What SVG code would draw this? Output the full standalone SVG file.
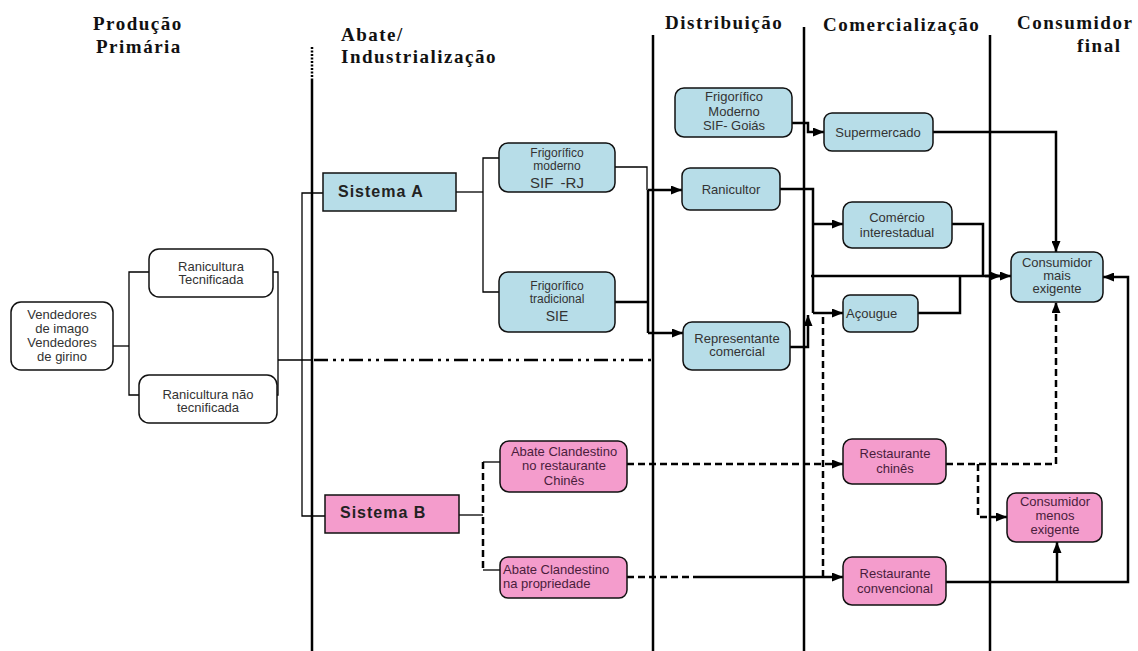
<svg xmlns="http://www.w3.org/2000/svg" width="1138" height="651" viewBox="0 0 1138 651">
<style>
.hd{font-family:"Liberation Serif","Times New Roman",serif;font-weight:bold;font-size:19px;letter-spacing:1.5px;fill:#111}
.t{font-family:"Liberation Sans",Arial,sans-serif;font-size:13px;fill:#333;text-anchor:middle}
.tp{font-family:"Liberation Sans",Arial,sans-serif;font-size:13px;fill:#4a1d3c;text-anchor:middle}
.st{text-anchor:start}
.s12{font-size:12px}
.s14{font-size:14px}
.s15{font-size:15px;word-spacing:3px}
.sys{font-family:"Liberation Sans",Arial,sans-serif;font-size:16px;font-weight:bold;letter-spacing:1px;fill:#222}
.w{fill:#fff;stroke:#111;stroke-width:1.5}
.b{fill:#b7dde8;stroke:#111;stroke-width:1.5}
.p{fill:#f49ccc;stroke:#111;stroke-width:1.5}
.div{stroke:#000;stroke-width:2.5;fill:none}
.thin{stroke:#000;stroke-width:1.3;fill:none}
.thk{stroke:#000;stroke-width:2.5;fill:none}
.dsh{stroke:#000;stroke-width:2.5;fill:none;stroke-dasharray:7 4}
.dd{stroke:#000;stroke-width:2.5;fill:none;stroke-dasharray:14 5 3 5 3 5}
</style>
<defs>
<marker id="a" markerUnits="userSpaceOnUse" markerWidth="11" markerHeight="9" refX="11" refY="4.5" orient="auto"><path d="M0,0 L11,4.5 L0,9 z" fill="#000"/></marker>
</defs>

<g id="headers">
<text class="hd" x="93" y="30">Produção</text>
<text class="hd" x="96" y="53">Primária</text>
<text class="hd" x="341" y="41">Abate/</text>
<text class="hd" x="341" y="63">Industrialização</text>
<text class="hd" x="665" y="29">Distribuição</text>
<text class="hd" x="823" y="31">Comercialização</text>
<text class="hd" x="1017" y="29">Consumidor</text>
<text class="hd" x="1077" y="52">final</text>
</g>

<g id="dividers">
<path class="div" d="M312,47 V80" stroke-dasharray="2 1.5"/>
<path class="div" d="M312,80 V651"/>
<path class="div" d="M653,35 V651"/>
<path class="div" d="M804,27 V651"/>
<path class="div" d="M990,35 V651"/>
</g>

<g id="connectors">
<path class="thin" d="M113,346 H129"/>
<path class="thin" d="M149,272 H129 V395 H139"/>
<path class="thin" d="M273,272 H278 V395 H277"/>
<path class="thin" d="M278,360 H312"/>
<path class="dd" d="M314,360 H653"/>
<path class="thin" d="M323,193 H302 V516 H325"/>
<path class="thin" d="M456,192 H483"/>
<path class="thin" d="M499,158 H483 V292 H499"/>
<path class="thin" d="M615,167 H647 V190"/>
<path class="thk" d="M615,302 H648" stroke-width="2"/>
<path class="thk" d="M648,190 V333"/>
<path class="thk" d="M648,190 H682" marker-end="url(#a)"/>
<path class="thk" d="M648,333 H683" marker-end="url(#a)"/>
<path class="thin" d="M459,515 H483"/>
<path class="thin" d="M500,462 H483"/>
<path class="thin" d="M500,570 H483"/>
<path class="dsh" d="M483,462 V570" stroke-dasharray="3 2"/>
<path class="dsh" d="M627,464 H843" marker-end="url(#a)"/>
<path class="dsh" d="M627,577 H700"/>
<path class="thk" d="M700,577 H843" marker-end="url(#a)"/>
<path class="dsh" d="M823,577 V314"/>
<path class="thk" d="M792,123 H808 V132 H824" stroke-width="2" marker-end="url(#a)"/>
<path class="thk" d="M780,189 H813 V313"/>
<path class="thk" d="M813,224 H843" marker-end="url(#a)"/>
<path class="thk" d="M813,313 H843" marker-end="url(#a)"/>
<path class="thk" d="M790,347 H808 V315" stroke-width="2" marker-end="url(#a)"/>
<path class="thk" d="M811,276 H1011" marker-end="url(#a)"/>
<path class="thk" d="M985,276 H1001" marker-end="url(#a)"/>
<path class="thk" d="M952,224 H983 V276"/>
<path class="thk" d="M918,313 H960 V276"/>
<path class="thk" d="M933,132 H1056 V252" marker-end="url(#a)"/>
<path class="dsh" d="M946,464 H1056 V302" marker-end="url(#a)"/>
<path class="dsh" d="M978,464 V517 H1007" marker-end="url(#a)"/>
<path class="thk" d="M946,582 H1128 V277 H1103" marker-end="url(#a)"/>
<path class="thk" d="M1057,582 V542" marker-end="url(#a)"/>
</g>

<g id="vendedores">
<rect class="w" x="11" y="302" width="102" height="68" rx="10"/>
<text class="t" x="62" y="319">Vendedores</text>
<text class="t" x="62" y="333">de imago</text>
<text class="t" x="62" y="347">Vendedores</text>
<text class="t" x="62" y="361">de girino</text>
</g>
<g id="ranicultura-tecnificada">
<rect class="w" x="149" y="249" width="124" height="48" rx="10"/>
<text class="t" x="211" y="271">Ranicultura</text>
<text class="t" x="211" y="284">Tecnificada</text>
</g>
<g id="ranicultura-nao-tecnificada">
<rect class="w" x="139" y="375" width="138" height="48" rx="10"/>
<text class="t" x="208" y="399">Ranicultura não</text>
<text class="t" x="208" y="412">tecnificada</text>
</g>
<g id="sistema-a">
<rect class="b" x="323" y="173" width="133" height="38"/>
<text class="sys" x="338" y="197">Sistema A</text>
</g>
<g id="sistema-b">
<rect class="p" x="325" y="495" width="134" height="38"/>
<text class="sys" x="340" y="518">Sistema B</text>
</g>
<g id="frig-moderno">
<rect class="b" x="499" y="143" width="116" height="49" rx="9"/>
<text class="t s12" x="557" y="157">Frigorífico</text>
<text class="t s12" x="557" y="170">moderno</text>
<text class="t s15" x="557" y="188">SIF -RJ</text>
</g>
<g id="frig-tradicional">
<rect class="b" x="499" y="272" width="116" height="60" rx="9"/>
<text class="t s12" x="557" y="290">Frigorífico</text>
<text class="t s12" x="557" y="303">tradicional</text>
<text class="t s14" x="557" y="321">SIE</text>
</g>
<g id="abate-restaurante">
<rect class="p" x="500" y="441" width="127" height="51" rx="9"/>
<text class="tp" x="564" y="456">Abate Clandestino</text>
<text class="tp" x="564" y="470">no restaurante</text>
<text class="tp" x="564" y="485">Chinês</text>
</g>
<g id="abate-propriedade">
<rect class="p" x="500" y="557" width="127" height="41" rx="8"/>
<text class="tp st" x="503" y="574">Abate Clandestino</text>
<text class="tp st" x="503" y="588">na propriedade</text>
</g>
<g id="frig-goias">
<rect class="b" x="675" y="88" width="117" height="49" rx="9"/>
<text class="t" x="734" y="101">Frigorífico</text>
<text class="t" x="734" y="116">Moderno</text>
<text class="t" x="734" y="130">SIF- Goiás</text>
</g>
<g id="ranicultor">
<rect class="b" x="682" y="168" width="98" height="42" rx="8"/>
<text class="t" x="731" y="194">Ranicultor</text>
</g>
<g id="representante">
<rect class="b" x="683" y="322" width="107" height="48" rx="9"/>
<text class="t" x="737" y="343">Representante</text>
<text class="t" x="737" y="356">comercial</text>
</g>
<g id="supermercado">
<rect class="b" x="824" y="113" width="109" height="38" rx="8"/>
<text class="t" x="878" y="137">Supermercado</text>
</g>
<g id="comercio">
<rect class="b" x="843" y="202" width="109" height="46" rx="9"/>
<text class="t" x="897" y="222">Comércio</text>
<text class="t" x="897" y="237">interestadual</text>
</g>
<g id="acougue">
<rect class="b" x="843" y="295" width="75" height="37" rx="7"/>
<text class="t st" x="846" y="318">Açougue</text>
</g>
<g id="restaurante-chines">
<rect class="p" x="843" y="439" width="103" height="45" rx="9"/>
<text class="tp" x="895" y="458">Restaurante</text>
<text class="tp" x="895" y="473">chinês</text>
</g>
<g id="restaurante-convencional">
<rect class="p" x="843" y="557" width="103" height="48" rx="9"/>
<text class="tp" x="895" y="578">Restaurante</text>
<text class="tp" x="895" y="593">convencional</text>
</g>
<g id="consumidor-mais">
<rect class="b" x="1011" y="252" width="92" height="50" rx="9"/>
<text class="t" x="1057" y="267">Consumidor</text>
<text class="t" x="1057" y="280">mais</text>
<text class="t" x="1057" y="293">exigente</text>
</g>
<g id="consumidor-menos">
<rect class="p" x="1007" y="493" width="95" height="49" rx="9"/>
<text class="tp" x="1055" y="506">Consumidor</text>
<text class="tp" x="1055" y="520">menos</text>
<text class="tp" x="1055" y="534">exigente</text>
</g>
</svg>
